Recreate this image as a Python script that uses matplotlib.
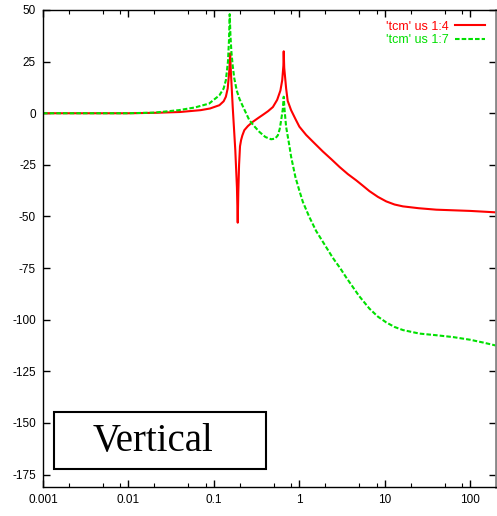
import matplotlib
matplotlib.use("Agg")
import matplotlib.pyplot as plt
from matplotlib import font_manager
from matplotlib.ticker import LogLocator, FixedLocator, NullFormatter
from matplotlib.patches import Rectangle

names = {f.name for f in font_manager.fontManager.ttflist}
sans = "Liberation Sans Narrow" if "Liberation Sans Narrow" in names else "Liberation Sans"
serif = "Liberation Serif"

# frequency values (log axis)
red_x = [0.001, 0.01, 0.02, 0.04, 0.07, 0.09, 0.116, 0.13, 0.138, 0.145, 0.151, 0.155,
         0.158, 0.166, 0.178, 0.186, 0.19, 0.193, 0.197, 0.202, 0.208, 0.215, 0.227, 0.25,
         0.284, 0.33, 0.373, 0.43, 0.49, 0.55, 0.6, 0.63, 0.65, 0.656, 0.665, 0.70, 0.73,
         0.80, 0.9, 1.0, 1.2, 1.5, 1.88, 2.4, 2.95, 3.7, 4.63, 5.5, 6.6, 8.3, 10.4, 13,
         16.3, 25, 40, 100, 200]
red_y = [0, 0, 0.2, 0.6, 1.5, 2.3, 3.9, 5.8, 8, 12, 20, 29,
         20, 3, -18, -36, -53, -38, -25, -16, -13, -10.8, -8.2, -6.2,
         -4.2, -2.3, -0.8, 1, 3, 6.5, 11, 16, 23, 30, 22, 12, 6,
         1.5, -2.8, -6.5, -10.5, -14.5, -18.5, -22.5, -26, -29.5, -32.5, -35, -37.7, -40.5, -42.7, -44.2,
         -45.1, -46, -46.7, -47.3, -48]

green_x = [0.001, 0.01, 0.02, 0.039, 0.06, 0.088, 0.116, 0.13, 0.138, 0.146, 0.150, 0.153,
           0.156, 0.16, 0.166, 0.173, 0.185, 0.199, 0.22, 0.26, 0.30, 0.34, 0.40, 0.467,
           0.52, 0.56, 0.59, 0.612, 0.64, 0.656, 0.67, 0.70, 0.766, 0.80, 0.9, 1.0, 1.1,
           1.3, 1.57, 2.0, 2.46, 3.0, 3.53, 4.2, 5.0, 6.6, 8.3, 10.4, 13, 16.3, 25.4, 40,
           63, 100, 140, 200]
green_y = [0, 0, 0.3, 1.5, 2.8, 4.7, 8.7, 12, 16, 25, 35, 48,
           38, 30, 23, 17, 11, 7, 3, -3.4, -6.5, -9, -11.5, -12.6,
           -12.3, -10.7, -7.5, -3.4, 2, 8, 2, -6.6, -16, -21, -31, -37.5, -43,
           -50, -57, -64, -70, -75, -79.5, -84, -88.5, -94.6, -98.5, -101.3, -103.5, -105, -106.7, -107.5,
           -108.4, -109.7, -111, -112.5]

series_labels = ["'tcm' us 1:4", "'tcm' us 1:7"]
y_ticks = [50, 25, 0, -25, -50, -75, -100, -125, -150, -175]
x_ticks = [0.001, 0.01, 0.1, 1, 10, 100]
x_tick_labels = ["0.001", "0.01", "0.1", "1", "10", "100"]
box_text = "Vertical"

fig = plt.figure(figsize=(4.97, 5.16), dpi=100)
ax = fig.add_axes([43 / 497, 1 - 487 / 516, (496 - 43) / 497, (487 - 10) / 516])

ax.plot(red_x, red_y, color="#ff0000", lw=1.5, label=series_labels[0])
ax.plot(green_x, green_y, color="#00e000", lw=1.5, dashes=(2.2, 1.0), label=series_labels[1])

ax.set_xscale("log")
ax.set_xlim(0.001, 200)
ax.set_ylim(-181, 50)

ax.xaxis.set_major_locator(FixedLocator(x_ticks))
ax.set_xticklabels(x_tick_labels)
ax.xaxis.set_minor_locator(LogLocator(base=10, subs=(2, 5, 8)))
ax.xaxis.set_minor_formatter(NullFormatter())
ax.set_yticks(y_ticks)
ax.set_yticklabels([str(v) for v in y_ticks])

ax.tick_params(which="major", direction="in", length=5, width=1, top=True, right=True,
               labelsize=8.5, pad=5)
ax.tick_params(which="minor", direction="in", length=3, width=0.8, top=True, right=True)
for lab in ax.get_xticklabels() + ax.get_yticklabels():
    lab.set_fontfamily(sans)

for s in ["left", "top", "bottom"]:
    ax.spines[s].set_linewidth(1.0)
ax.spines["right"].set_color("#888888")
ax.spines["right"].set_linewidth(2)

leg = ax.legend(loc="upper right", frameon=False, markerfirst=False, handlelength=2.4,
                labelspacing=0.12, borderaxespad=0.5, handletextpad=0.5,
                borderpad=0.35, prop={"family": sans, "size": 9})
for txt, line in zip(leg.get_texts(), leg.get_lines()):
    txt.set_color(line.get_color())

ax.add_patch(Rectangle((54 / 497, 1 - 469 / 516), (266 - 54) / 497, (469 - 412) / 516,
                       transform=fig.transFigure, fill=False, edgecolor="black", lw=1.5,
                       zorder=5))
fig.text(153 / 497, 1 - 442 / 516, box_text, family=serif, fontsize=28,
         ha="center", va="center")

fig.savefig("out.png", dpi=100)
